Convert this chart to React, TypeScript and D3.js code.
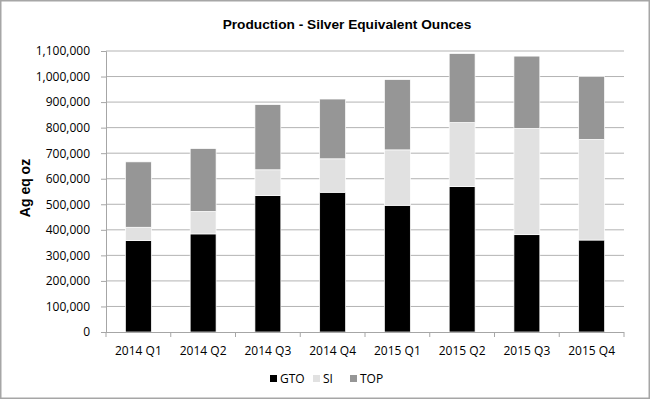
import { useEffect, useRef } from "react"
import * as d3 from "d3"

const quarters = ["2014 Q1", "2014 Q2", "2014 Q3", "2014 Q4", "2015 Q1", "2015 Q2", "2015 Q3", "2015 Q4"]
const seriesNames = ["GTO", "SI", "TOP"]
const gto = [358000, 384000, 534000, 547000, 496000, 569000, 381000, 360000]
const si = [52000, 88000, 101000, 131000, 217000, 251000, 416000, 394000]
const top = [256000, 246000, 255000, 234000, 275000, 270000, 283000, 247000]
const yTicks = [0, 100000, 200000, 300000, 400000, 500000, 600000, 700000, 800000, 900000, 1000000, 1100000]
const colors = ["#000000", "#e1e1e1", "#969696"]

export default function App() {
  const ref = useRef<SVGSVGElement | null>(null)

  useEffect(() => {
    const svg = d3.select(ref.current)
    svg.selectAll("*").remove()

    const width = 650
    const height = 400
    const left = 106
    const right = 624
    const bottom = 332
    const topY = 51
    const font = "'Open Sans', Calibri, sans-serif"

    svg.attr("width", width).attr("height", height)

    svg.append("rect")
      .attr("x", 0.75).attr("y", 0.75)
      .attr("width", width - 1.5).attr("height", height - 2.5)
      .attr("fill", "#fff").attr("stroke", "#a6a6a6").attr("stroke-width", 1.5)

    const rows = quarters.map((q, i) => ({ q, GTO: gto[i], SI: si[i], TOP: top[i] }))
    const stack = d3.stack<any>().keys(seriesNames)(rows)

    const x = d3.scaleBand()
      .domain(quarters)
      .range([left, right])
      .paddingInner(0.6)
      .paddingOuter(0.3)

    const y = d3.scaleLinear()
      .domain([0, 1100000])
      .range([bottom, topY])

    // gridlines
    svg.append("g")
      .selectAll("line")
      .data(yTicks.slice(1))
      .enter()
      .append("line")
      .attr("x1", left).attr("x2", right)
      .attr("y1", d => y(d)).attr("y2", d => y(d))
      .attr("stroke", "#b3b3b3").attr("stroke-width", 1)

    // y axis
    const yAxis = svg.append("g")
      .attr("transform", `translate(${left},0)`)
      .call(d3.axisLeft(y).tickValues(yTicks).tickSize(5).tickPadding(11).tickFormat(d3.format(",")))
    yAxis.select(".domain").attr("stroke", "#a6a6a6")
    yAxis.selectAll(".tick line").attr("stroke", "#a6a6a6")
    yAxis.selectAll("text").attr("font-family", font).attr("font-size", 12).attr("fill", "#000")

    // bars
    svg.append("g")
      .selectAll("g")
      .data(stack)
      .enter()
      .append("g")
      .attr("fill", (_d, i) => colors[i])
      .selectAll("rect")
      .data(d => d)
      .enter()
      .append("rect")
      .attr("x", d => x(d.data.q)!)
      .attr("y", d => y(d[1]))
      .attr("width", x.bandwidth())
      .attr("height", d => y(d[0]) - y(d[1]))
      .attr("stroke", "#fff").attr("stroke-width", 0.7)

    // x axis
    const step = x.step()
    const xAxis = svg.append("g")
    xAxis.append("line")
      .attr("x1", left).attr("x2", right)
      .attr("y1", bottom + 0.5).attr("y2", bottom + 0.5)
      .attr("stroke", "#a6a6a6")
    xAxis.selectAll(".tk")
      .data(d3.range(quarters.length + 1))
      .enter()
      .append("line")
      .attr("x1", i => left + i * step).attr("x2", i => left + i * step)
      .attr("y1", bottom).attr("y2", bottom + 5)
      .attr("stroke", "#a6a6a6")
    xAxis.selectAll("text")
      .data(quarters)
      .enter()
      .append("text")
      .attr("x", d => x(d)! + x.bandwidth() / 2)
      .attr("y", 355)
      .attr("text-anchor", "middle")
      .attr("font-family", font).attr("font-size", 12)
      .text(d => d)

    // title
    svg.append("text")
      .attr("x", 347).attr("y", 29)
      .attr("text-anchor", "middle")
      .attr("font-family", "'Liberation Sans', Arial, sans-serif")
      .attr("font-weight", "bold").attr("font-size", 13.7)
      .text("Production - Silver Equivalent Ounces")

    svg.append("text")
      .attr("transform", "translate(30,188) rotate(-90)")
      .attr("text-anchor", "middle")
      .attr("font-family", "'Liberation Sans', Arial, sans-serif")
      .attr("font-weight", "bold").attr("font-size", 14)
      .text("Ag eq oz")

    // legend
    const legendX = [270, 313, 350]
    const legend = svg.append("g")
      .selectAll("g")
      .data(seriesNames)
      .enter()
      .append("g")
      .attr("transform", (_d, i) => `translate(${legendX[i]},379)`)
    legend.append("rect")
      .attr("x", 0).attr("y", -4)
      .attr("width", 7).attr("height", 7)
      .attr("fill", (_d, i) => colors[i])
    legend.append("text")
      .attr("x", 10).attr("y", 4)
      .attr("font-family", font).attr("font-size", 12)
      .text(d => d)
  }, [])

  return <svg ref={ref} style={{ position: "absolute", left: 0, top: 0, display: "block" }} />
}
